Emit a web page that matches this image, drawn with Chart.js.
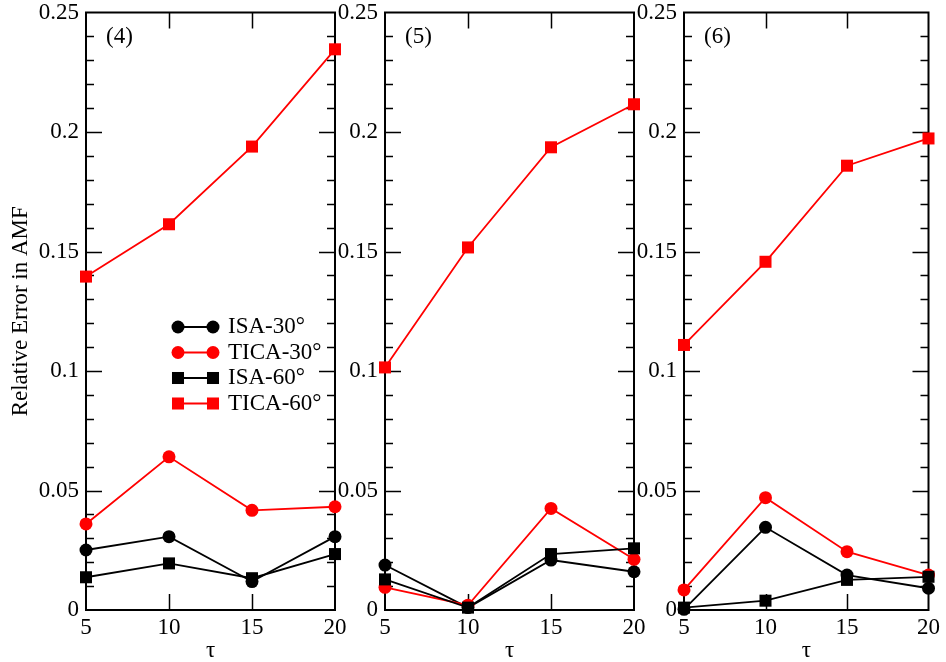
<!DOCTYPE html>
<html>
<head>
<meta charset="utf-8">
<script src="https://cdn.jsdelivr.net/npm/chart.js@4.4.1/dist/chart.umd.min.js"></script>
<style>
  body { margin: 0; background: #fff; }
  #wrap { position: relative; width: 946px; height: 662px; }
  #wrap canvas { position: absolute; left: 0; top: 0; }
</style>
</head>
<body>
<div id="wrap">
  <canvas id="c4" width="946" height="662"></canvas>
  <canvas id="c5" width="946" height="662"></canvas>
  <canvas id="c6" width="946" height="662"></canvas>
</div>
<script>
// Data
const tau = [5, 10, 15, 20];
const xTickLabels = ["5", "10", "15", "20"];
const yTickLabels = ["0", "0.05", "0.1", "0.15", "0.2", "0.25"];
const seriesNames = ["ISA-30°", "TICA-30°", "ISA-60°", "TICA-60°"];

// panel (4)
const isa30P4 = [0.0251, 0.0307, 0.0119, 0.0307];
const tica30P4 = [0.0360, 0.0641, 0.0417, 0.0432];
const isa60P4 = [0.0137, 0.0195, 0.0133, 0.0234];
const tica60P4 = [0.1395, 0.1614, 0.1939, 0.2346];

// panel (5)
const isa30P5 = [0.0188, 0.0010, 0.0209, 0.0160];
const tica30P5 = [0.0095, 0.0020, 0.0425, 0.0212];
const isa60P5 = [0.0128, 0.0010, 0.0234, 0.0258];
const tica60P5 = [0.1015, 0.1517, 0.1936, 0.2116];

// panel (6)
const isa30P6 = [0.0003, 0.0346, 0.0146, 0.0091];
const tica30P6 = [0.0084, 0.0470, 0.0244, 0.0146];
const isa60P6 = [0.0010, 0.0039, 0.0126, 0.0139];
const tica60P6 = [0.1109, 0.1457, 0.1859, 0.1973];

const FONT = "'Liberation Serif', 'Times New Roman', serif";
const W = 946;

// marker / line styles, same order as seriesNames
const styles = [
  { color: "#000000", shape: "circle", r: 6.5 },
  { color: "#ff0000", shape: "circle", r: 6.5 },
  { color: "#000000", shape: "rect", r: 8.5 },
  { color: "#ff0000", shape: "rect", r: 8.5 }
];

/* =========================
   FRAME + INSIDE TICKS
========================= */
const framePlugin = {
  id: "frame",
  beforeDatasetsDraw(chart) {
    const ctx = chart.ctx;
    const a = chart.chartArea;
    const ys = chart.scales.y;
    const xs = chart.scales.x;
    ctx.save();
    ctx.strokeStyle = "#000";
    ctx.lineWidth = 1.5;
    ctx.beginPath();
    for (let i = 1; i < 25; i++) {
      const y = Math.round(ys.getPixelForValue(i / 100)) + 0.5;
      const len = i % 5 === 0 ? 16 : 8;
      ctx.moveTo(a.left, y); ctx.lineTo(a.left + len, y);
      ctx.moveTo(a.right, y); ctx.lineTo(a.right - len, y);
    }
    tau.forEach(v => {
      if (v <= xs.min || v >= xs.max) return;
      const x = Math.round(xs.getPixelForValue(v)) + 0.5;
      ctx.moveTo(x, a.bottom); ctx.lineTo(x, a.bottom - 16);
      ctx.moveTo(x, a.top); ctx.lineTo(x, a.top + 16);
    });
    ctx.stroke();
    ctx.lineWidth = 2;
    ctx.strokeRect(a.left, a.top, a.right - a.left, a.bottom - a.top);

    // panel label
    ctx.fillStyle = "#000";
    ctx.font = "23px " + FONT;
    ctx.textBaseline = "middle";
    ctx.textAlign = "left";
    ctx.fillText(chart.options.plugins.frame.label, a.left + 20, a.top + 24.5);
    ctx.restore();
  }
};

/* =========================
   LEGEND (line with marker at both ends)
========================= */
const legendPlugin = {
  id: "sideLegend",
  afterDatasetsDraw(chart) {
    if (!chart.options.plugins.sideLegend.show) return;
    const ctx = chart.ctx;
    const a = chart.chartArea;
    ctx.save();
    seriesNames.forEach((name, i) => {
      const st = styles[i];
      const y = a.top + 314.5 + i * 25.5;
      const x1 = a.left + 92, x2 = a.left + 127;
      ctx.strokeStyle = st.color;
      ctx.fillStyle = st.color;
      ctx.lineWidth = 1.8;
      ctx.beginPath(); ctx.moveTo(x1, y); ctx.lineTo(x2, y); ctx.stroke();
      [x1, x2].forEach(x => {
        if (st.shape === "circle") {
          ctx.beginPath(); ctx.arc(x, y, st.r, 0, Math.PI * 2); ctx.fill();
        } else {
          const h = st.r * Math.SQRT1_2;
          ctx.fillRect(x - h, y - h, 2 * h, 2 * h);
        }
      });
      ctx.fillStyle = "#000";
      ctx.font = "23px " + FONT;
      ctx.textBaseline = "middle";
      ctx.textAlign = "left";
      ctx.fillText(name, a.left + 142, y);
    });
    ctx.restore();
  }
};

function makeDatasets(values) {
  return values.map((vals, i) => ({
    label: seriesNames[i],
    data: tau.map((t, k) => ({ x: t, y: vals[k] })),
    borderColor: styles[i].color,
    backgroundColor: styles[i].color,
    borderWidth: 1.8,
    pointStyle: styles[i].shape,
    pointRadius: styles[i].r,
    pointBorderWidth: 0,
    pointHoverRadius: styles[i].r,
    tension: 0,
    clip: false,
    order: 4 - i
  }));
}

const panels = [
  { id: "c4", label: "(4)", left: 86, right: 335, yWidth: 86, yTitle: true,
    values: [isa30P4, tica30P4, isa60P4, tica60P4] },
  { id: "c5", label: "(5)", left: 385, right: 634, yWidth: 60, yTitle: false,
    values: [isa30P5, tica30P5, isa60P5, tica60P5] },
  { id: "c6", label: "(6)", left: 684, right: 934, yWidth: 60, yTitle: false,
    values: [isa30P6, tica30P6, isa60P6, tica60P6] }
];

panels.forEach(p => {
  new Chart(document.getElementById(p.id), {
    type: "line",
    data: { datasets: makeDatasets(p.values) },
    options: {
      responsive: false,
      animation: false,
      events: [],
      layout: { padding: { left: p.left - p.yWidth, right: W - p.right, top: 12.5, bottom: 0 } },
      plugins: {
        legend: { display: false },
        tooltip: { enabled: false },
        frame: { label: p.label },
        sideLegend: { show: p.yTitle }
      },
      scales: {
        x: {
          type: "linear",
          min: 5,
          max: 20,
          afterBuildTicks: s => { s.ticks = tau.map(v => ({ value: v })); },
          ticks: {
            callback: (v, i) => xTickLabels[i],
            font: { family: FONT, size: 23, lineHeight: 1 },
            color: "#000",
            padding: 6,
            maxRotation: 0,
            autoSkip: false
          },
          grid: { display: false, drawTicks: false },
          border: { display: false },
          title: {
            display: true,
            text: "τ",
            color: "#000",
            font: { family: FONT, size: 23, lineHeight: 1 },
            padding: 0
          },
          afterFit: s => { s.height = 52; }
        },
        y: {
          type: "linear",
          min: 0,
          max: 0.25,
          ticks: {
            stepSize: 0.05,
            callback: (v, i) => yTickLabels[i],
            font: { family: FONT, size: 23, lineHeight: 1 },
            color: "#000",
            padding: 7
          },
          grid: { display: false, drawTicks: false },
          border: { display: false },
          title: {
            display: p.yTitle,
            text: "Relative Error in AMF",
            color: "#000",
            font: { family: FONT, size: 23, lineHeight: 1 },
            padding: { top: 9.5, bottom: 0 }
          },
          afterFit: s => {
            s.width = p.yWidth;
            s.paddingTop = 0;
            s.paddingBottom = 0;
          }
        }
      }
    },
    plugins: [framePlugin, legendPlugin]
  });
});
</script>
</body>
</html>
